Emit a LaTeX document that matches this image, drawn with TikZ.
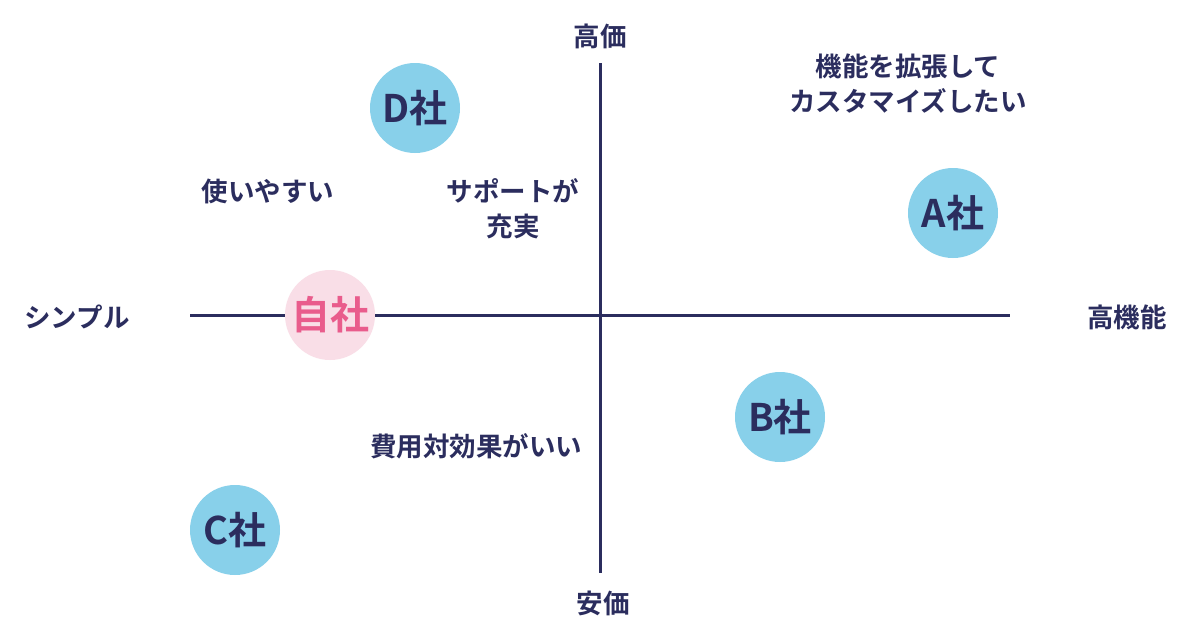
\documentclass[tikz,border=0pt]{standalone}
\usepackage{fontspec}
\newfontfamily\jp{Noto Sans CJK JP Bold}
\definecolor{navy}{HTML}{2B2D5E}
\definecolor{lblue}{HTML}{88D0EA}
\definecolor{lpink}{HTML}{F9DEE7}
\definecolor{dpink}{HTML}{E95C8C}
\begin{document}
\begin{tikzpicture}[x=1pt,y=-1pt,
  axis/.style={draw=navy,line width=3pt},
  lbl/.style={text=navy,font=\jp\fontsize{26.5}{35}\selectfont,align=center,inner sep=0pt},
  co/.style={circle,fill=lblue,minimum size=90pt,inner sep=0pt,text=navy,font=\jp\fontsize{38}{42}\selectfont},
  own/.style={circle,fill=lpink,minimum size=90pt,inner sep=0pt,text=dpink,font=\jp\fontsize{39}{42}\selectfont}]
\useasboundingbox[fill=white] (0,0) rectangle (1200,630);
\coordinate (L) at (190,315);
\coordinate (R) at (1010,315);
\coordinate (T) at (600,63);
\coordinate (B) at (600,573);
\draw[axis] (L) -- (R);
\draw[axis] (T) -- (B);
\node[lbl] (top) at (600,36) {高価};
\node[lbl] (bot) at (603,603) {安価};
\node[lbl] (left) at (77,317) {シンプル};
\node[lbl] (right) at (1127,317) {高機能};
\node[lbl] (a1) at (908,84) {機能を拡張して\\カスタマイズしたい};
\node[lbl] (e) at (268,191) {使いやすい};
\node[lbl] (s) at (513,209) {サポートが\\充実};
\node[lbl] (c) at (476,446) {費用対効果がいい};
\node[co] (D) at (415,108) {D社};
\node[co] (A) at (953,213) {A社};
\node[co] (Bc) at (780,417) {B社};
\node[co] (C) at (235,530) {C社};
\node[own] (J) at (330,315) {自社};
\end{tikzpicture}
\end{document}
